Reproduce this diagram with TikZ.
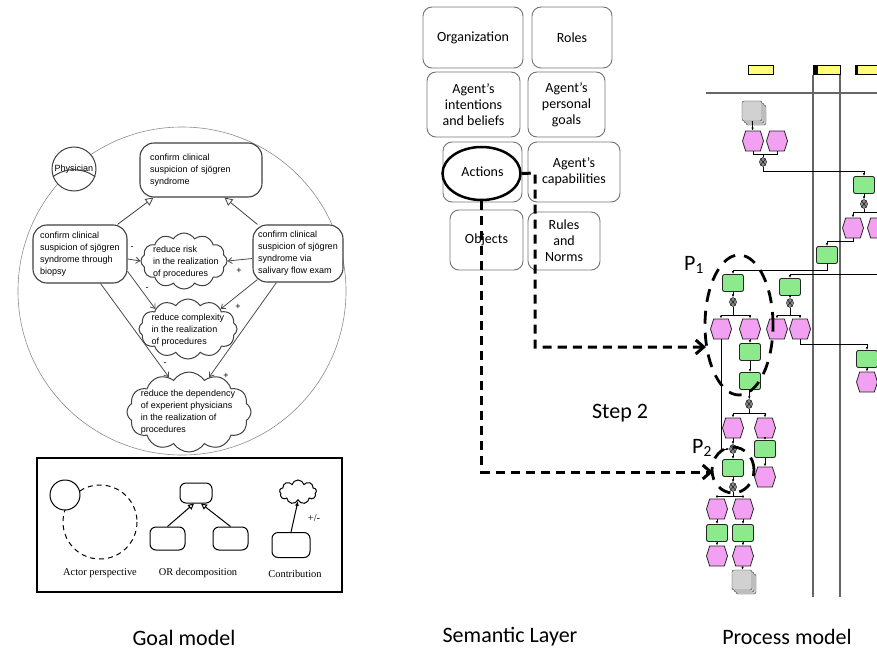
\documentclass[tikz,border=0pt]{standalone}
\usepackage{fontspec}
\setmainfont{Carlito}
\newfontfamily\goalfont{Liberation Sans}
\newfontfamily\legfont{Liberation Serif}
\usetikzlibrary{shapes.geometric,shapes.symbols,arrows.meta,shadows}

\definecolor{evtpink}{RGB}{242,160,242}
\definecolor{fngreen}{RGB}{140,234,140}
\definecolor{laneyellow}{RGB}{255,255,120}

\tikzset{
  goal/.style={draw=black!75, line width=1.1pt, fill=white, rounded corners=14pt, inner sep=0pt, align=left, font=\goalfont\fontsize{9}{12}\selectfont},
  gtext/.style={inner sep=0pt, align=left, font=\goalfont\fontsize{9}{12}\selectfont},
  softgoal/.style={cloud, cloud puffs=12, cloud puff arc=115, cloud ignores aspect, draw=black!75, line width=1pt, fill=white, inner sep=0pt},
  ordec/.style={draw=black!75, line width=0.8pt, -{Triangle[open,length=8pt,width=8pt]}},
  contrib/.style={draw=black!70, line width=0.8pt, -{Straight Barb[length=4pt,width=6pt]}},
  cmark/.style={inner sep=0pt, font=\goalfont\fontsize{9}{9}\selectfont},
  legtext/.style={inner sep=0pt, font=\legfont\fontsize{10.4}{12}\selectfont},
  sembox/.style={draw=black!55, line width=0.9pt, rounded corners=9pt, align=center, inner sep=0pt, font=\fontsize{14}{16}\selectfont},
  flow/.style={line width=3pt, dash pattern=on 9pt off 6pt, -{Straight Barb[length=8pt,width=14pt]}},
  zone/.style={ellipse, draw, line width=2.8pt, dash pattern=on 13pt off 9pt, inner sep=0pt},
  evt/.style={signal, signal to=west and east, signal pointer angle=145, draw=black!85, line width=0.8pt, fill=evtpink, minimum width=21pt, minimum height=20pt, inner sep=0pt},
  fn/.style={draw=black!85, line width=0.9pt, fill=fngreen, rounded corners=2pt, minimum width=21pt, minimum height=17pt, inner sep=0pt},
  op/.style={ellipse, draw, fill=black!45, minimum width=7pt, minimum height=9pt, inner sep=0pt,
    path picture={\draw[line width=0.4pt] (path picture bounding box.north west) -- (path picture bounding box.south east) (path picture bounding box.north east) -- (path picture bounding box.south west);}},
  doc/.style={draw=black!80, fill=black!18, rounded corners=2pt, minimum width=20pt, minimum height=20pt, inner sep=0pt,
    double copy shadow={shadow xshift=2pt, shadow yshift=-2pt, draw=black!80, fill=black!18}},
  pline/.style={line width=0.8pt, -{Latex[length=3pt,width=2.5pt]}},
  joinline/.style={line width=0.8pt},
  lane/.style={draw=black!60, line width=1.5pt},
  lanehead/.style={draw, fill=laneyellow, line width=0.8pt, minimum height=9pt, inner sep=0pt},
  capt/.style={inner sep=0pt, font=\fontsize{22}{26}\selectfont}
}

\begin{document}
\begin{tikzpicture}[x=1pt, y=-1pt]
  \useasboundingbox (0,0) rectangle (877,650);

  % goal model
  \draw[black!45, line width=0.6pt] (182,291) circle (164);
  \node[goal, text width=102pt, inner xsep=10pt, minimum height=54pt] (tg) at (201,170) {confirm clinical\\suspicion of sjögren\\syndrome};
  \node[goal, minimum width=94pt, minimum height=58pt] (lg) at (80,254) {confirm clinical\\suspicion of sjögren\\syndrome through\\biopsy};
  \node[goal, minimum width=90pt, minimum height=57pt] (rg) at (298,253.5) {confirm clinical\\suspicion of sjögren\\syndrome via\\salivary flow exam};
  \node[softgoal, minimum width=86pt, minimum height=56pt] (risk) at (184,261) {};
  \node[gtext] (risk-t) at (186,262.5) {reduce risk\\in the realization\\of procedures};
  \node[softgoal, minimum width=98pt, minimum height=60pt] (cx) at (188,329) {};
  \node[gtext] (cx-t) at (188,330) {reduce complexity\\in the realization\\of procedures};
  \node[softgoal, minimum width=124pt, minimum height=80pt] (dep) at (189,412) {};
  \node[gtext] (dep-t) at (188,412.5) {reduce the dependency\\of experient physicians\\in the realization of\\procedures};
  \node[circle, draw=black!75, line width=1pt, fill=white, minimum size=44pt, inner sep=0pt, font=\goalfont\fontsize{9}{9}\selectfont] (phys) at (74,169) {Physician};
  \draw[black!75, line width=1pt] (phys.200) to[bend left=35] (phys.-20);

  \draw[ordec] ([xshift=-10pt]lg.north east) -- ([xshift=14pt]tg.south west);
  \draw[ordec] ([xshift=5pt]rg.north west) -- ([xshift=-38pt]tg.south east);
  \draw[contrib] ([yshift=-5pt]lg.east) -- (risk.west);
  \draw[contrib] ([yshift=-5pt]rg.west) -- (risk.east);
  \draw[contrib] (lg.-20) -- (cx.north west);
  \draw[contrib] ([xshift=5pt,yshift=3pt]rg.south west) -- (cx.north east);
  \draw[contrib] ([xshift=-27pt]lg.south east) -- (dep.120);
  \draw[contrib] ([xshift=24pt]rg.south west) -- (dep.60);
  \node[cmark] (s1) at (132,248) {-};
  \node[cmark] (s2) at (239,271) {+};
  \node[cmark] (s3) at (147,289) {-};
  \node[cmark] (s4) at (238,307) {+};
  \node[cmark] (s5) at (165,364) {-};
  \node[cmark] (s6) at (226,376) {+};

  % legend
  \node[draw, line width=1.6pt, fill=white, minimum width=305pt, minimum height=134pt, inner sep=0pt] (legend) at (189.5,525) {};
  \draw[dash pattern=on 5pt off 4pt, line width=1pt] (100,522) circle (37);
  \node[circle, draw, fill=white, line width=1pt, minimum size=30pt, inner sep=0pt] (lactor) at (65,495) {};
  \node[draw, line width=1pt, rounded corners=6pt, minimum width=32pt, minimum height=20pt] (ltop) at (196,493) {};
  \node[draw, line width=1pt, rounded corners=6pt, minimum width=35pt, minimum height=23pt] (lleft) at (167.5,538.5) {};
  \node[draw, line width=1pt, rounded corners=6pt, minimum width=35pt, minimum height=23pt] (lright) at (230.5,538.5) {};
  \draw[line width=1pt, -{Triangle[open,length=6pt,width=6pt]}] (lleft.north) -- ([xshift=-2pt]ltop.south);
  \draw[line width=1pt, -{Triangle[open,length=6pt,width=6pt]}] (lright.north) -- ([xshift=5pt]ltop.south);
  \node[cloud, cloud puffs=9, cloud ignores aspect, draw, line width=1pt, minimum width=37pt, minimum height=24pt, inner sep=0pt] (lsoft) at (298,492) {};
  \node[draw, line width=1pt, rounded corners=6pt, minimum width=38pt, minimum height=25pt] (ltask) at (291,545) {};
  \draw[line width=1pt, -{Latex[length=5pt,width=4pt]}] (ltask.north) -- (lsoft.south);
  \node[legtext] (lpm) at (314,518) {+/-};
  \node[legtext] (ltxt1) at (100,573) {Actor perspective};
  \node[legtext] (ltxt2) at (198,573) {OR decomposition};
  \node[legtext] (ltxt3) at (295,574) {Contribution};

  % semantic layer
  \node[sembox, minimum width=100pt, minimum height=61pt] (org) at (473,37.5) {Organization};
  \node[sembox, minimum width=80pt, minimum height=61pt] (roles) at (572,37.5) {Roles};
  \node[sembox, minimum width=93pt, minimum height=65pt] (intent) at (473.5,104.5) {Agent’s\\intentions\\and beliefs};
  \node[sembox, minimum width=77pt, minimum height=65pt] (pgoals) at (566.5,104.5) {Agent’s\\personal\\goals};
  \node[sembox, minimum width=79pt, minimum height=60pt] (actbox) at (482.5,172) {Actions};
  \node[sembox, minimum width=92pt, minimum height=60pt] (capab) at (574,172) {Agent’s\\capabilities};
  \node[sembox, minimum width=73pt, minimum height=60pt] (objects) at (486.5,240) {Objects};
  \node[sembox, minimum width=72pt, minimum height=58pt] (rules) at (564,241) {Rules\\and\\Norms};
  \node[ellipse, draw, line width=2.5pt, minimum width=78pt, minimum height=53pt, inner sep=0pt] (actell) at (481.5,173.5) {};

  % process model
  \node[lanehead, minimum width=25pt] (h1) at (760.5,69.5) {};
  \node[lanehead, minimum width=27pt] (h2) at (826.5,70) {};
  \node[lanehead, minimum width=26pt] (h3) at (868,70) {};
  \fill (h2.north west) rectangle ([xshift=5pt]h2.south west);
  \fill (h3.north west) rectangle ([xshift=3pt]h3.south west);
  \draw[lane] (706,93) -- (880,93);
  \draw[lane] (813,75) -- (813,597);
  \draw[lane] (840,75) -- (840,597);

  \node[doc] (d1) at (752,111) {};
  \node[evt] (e1) at (753,141) {};
  \node[evt] (e2) at (777,141) {};
  \node[op] (o1) at (763,162) {};
  \node[fn] (f1) at (864,185) {};
  \node[op] (o2) at (864,204) {};
  \node[evt] (e3) at (853,228) {};
  \node[evt] (e4) at (878,228) {};
  \node[fn] (f2) at (827,255) {};
  \node[fn] (f3) at (733,283) {};
  \node[op] (o3) at (733,302) {};
  \node[evt] (e5) at (721,329) {};
  \node[evt] (e6) at (750,329) {};
  \node[fn] (f4) at (750,352) {};
  \node[fn] (f5) at (750,381) {};
  \node[op] (o4) at (749,404) {};
  \node[evt] (e7) at (733,428) {};
  \node[evt] (e8) at (765,428) {};
  \node[op] (o5) at (733,449) {};
  \node[fn] (f6) at (733,468) {};
  \node[op] (o6) at (733,487) {};
  \node[evt] (e9) at (717,509) {};
  \node[evt] (e10) at (743,509) {};
  \node[fn] (f7) at (717,533) {};
  \node[fn] (f8) at (743,533) {};
  \node[evt] (e11) at (717,556) {};
  \node[evt] (e12) at (743,556) {};
  \node[doc] (d2) at (742,580) {};
  \node[fn] (f9) at (765,449) {};
  \node[evt] (e13) at (765,477) {};
  \node[fn] (f10) at (790,287) {};
  \node[op] (o7) at (790,303) {};
  \node[evt] (e14) at (777,329) {};
  \node[evt] (e15) at (800,329) {};
  \node[fn] (f11) at (867,359) {};
  \node[evt] (e16) at (867,382) {};
  \coordinate (rin) at (880,274);

  \draw[pline] (d1) -- (e1);
  \draw[joinline] (e1.south) -- ++(0,3) coordinate (b1) -| (e2.south);
  \draw[joinline] (o1) -- (o1 |- b1);
  \draw[pline] (o1) -- ++(0,9) -| (f1);
  \draw[pline] (f1) -- (o2);
  \draw[joinline] (o2) -- ++(0,8) coordinate (b2);
  \draw[pline] (b2) -| (e3);
  \draw[pline] (b2) -| (e4);
  \draw[pline] (e3.south) -- ++(0,3) -| (f2);
  \draw[pline] (f2.south) -- ++(0,6) -| (f3);
  \draw[pline] (rin) -| (f10);
  \draw[pline] (f3) -- (o3);
  \draw[joinline] (o3) -- ++(0,13) coordinate (b3);
  \draw[pline] (b3) -| (e5);
  \draw[pline] (b3) -| (e6);
  \draw[pline] (e6) -- (f4);
  \draw[pline] (f4) -- (f5);
  \draw[pline] (f5) -- (o4);
  \draw[joinline] (o4) -- ++(0,9) coordinate (b4);
  \draw[pline] (b4) -| (e7);
  \draw[pline] (b4) -| (e8);
  \draw[pline] (e5) |- (o5);
  \draw[pline] (e7) -- (o5);
  \draw[pline] (o5) -- (f6);
  \draw[pline] (f6) -- (o6);
  \draw[joinline] (o6) -- ++(0,9) coordinate (b6);
  \draw[pline] (b6) -| (e9);
  \draw[pline] (b6) -| (e10);
  \draw[pline] (e9) -- (f7);
  \draw[pline] (f7) -- (e11);
  \draw[pline] (e10) -- (f8);
  \draw[pline] (f8) -- (e12);
  \draw[pline] (e12) -- (d2);
  \draw[pline] (e8) -- (f9);
  \draw[pline] (f9) -- (e13);
  \draw[pline] (f10) -- (o7);
  \draw[joinline] (o7) -- ++(0,12) coordinate (b7);
  \draw[pline] (b7) -| (e14);
  \draw[pline] (b7) -| (e15);
  \draw[pline] (e15.south) -- ++(0,5) -| (f11);
  \draw[pline] (f11) -- (e16);

  \node[zone, minimum width=68pt, minimum height=140pt] (p1zone) at (739,325) {};
  \node[zone, minimum width=42pt, minimum height=46pt] (p2zone) at (733,470) {};
  \node[capt] (p1lab) at (694,265) {P\textsubscript{1}};
  \node[capt] (p2lab) at (702,448) {P\textsubscript{2}};

  % step 2
  \coordinate (turn) at (535,173);
  \coordinate (p1in) at (706,347);
  \coordinate (p2in) at (713,472);
  \draw[flow] (actell.south) |- (p2in);
  \draw[flow] (actell.east) -- (turn) |- (p1in);
  \node[capt] (step) at (620,413) {Step 2};

  \node[capt] (capgoal) at (184,638) {Goal model};
  \node[capt] (capsem) at (510,637) {Semantic Layer};
  \node[capt] (capproc) at (787,637) {Process model};
\end{tikzpicture}
\end{document}
